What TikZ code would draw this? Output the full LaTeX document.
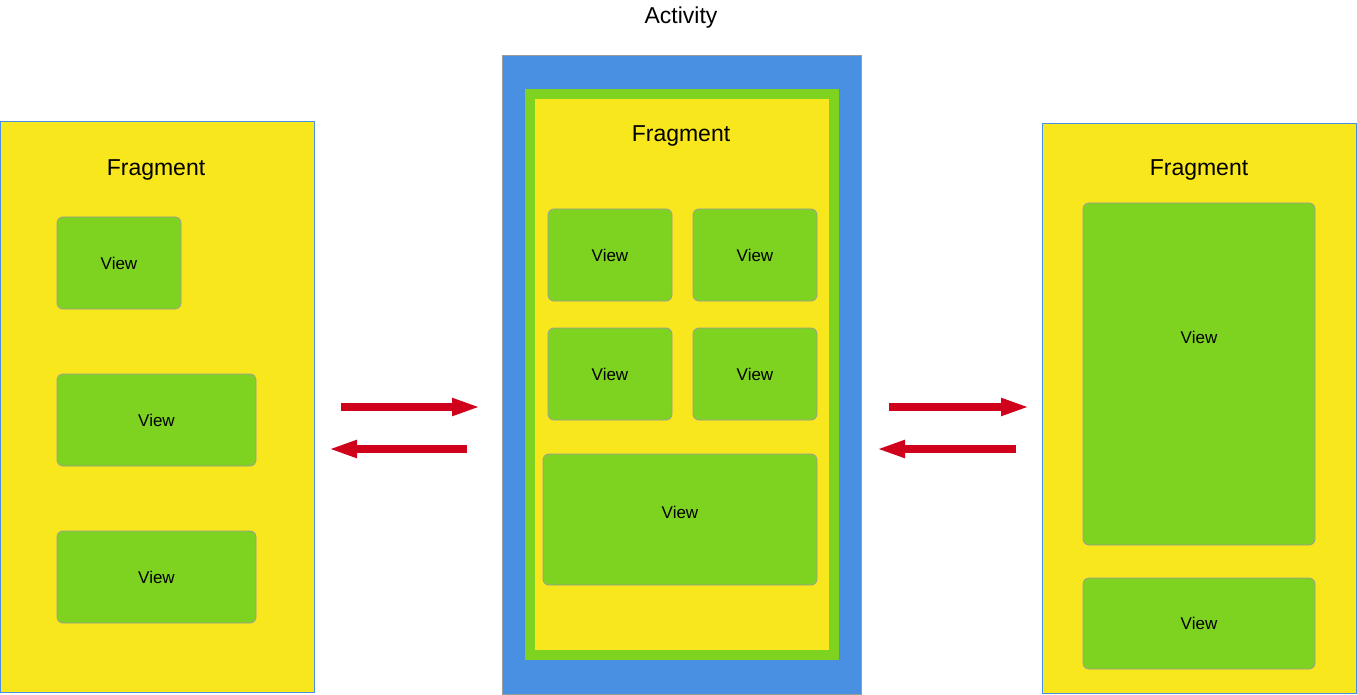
\documentclass[tikz,border=0pt]{standalone}
\usepackage{fontspec}
\setmainfont{Liberation Sans}
\usetikzlibrary{arrows.meta}
\definecolor{fragYellow}{RGB}{248,231,28}
\definecolor{viewGreen}{RGB}{126,211,33}
\definecolor{actBlue}{RGB}{74,144,226}
\definecolor{flowRed}{RGB}{208,2,27}
\definecolor{edgeGrey}{RGB}{155,155,155}
\tikzset{
    >=Triangle,
    box/.style 2 args={rectangle,inner sep=0pt,outer sep=0pt,minimum width=#1pt,minimum height=#2pt},
    frag/.style={fill=fragYellow,draw=actBlue,line width=0.8pt},
    view/.style={fill=viewGreen,draw=edgeGrey,line width=0.8pt,rounded corners=6pt,font=\fontsize{17}{20}\selectfont},
    title/.style={font=\fontsize{23}{27}\selectfont},
    flow/.style={draw=flowRed,line width=8pt,-{Triangle[length=29pt,width=16pt]}}
}

\begin{document}
\begin{tikzpicture}[x=1pt,y=-1pt]
  \useasboundingbox (0,0) rectangle (1357,695);

  % left fragment
  \node[frag,box={314}{571}] (lfrag) at (157,406.5) {};
  \node[title] (lfragt) at (156,170) {Fragment};
  \node[view,box={124}{92},yshift=0pt] (lv1) at (119,263) {View};
  \node[view,box={199}{92}] (lv2) at (156.5,420) {View};
  \node[view,box={199}{92}] (lv3) at (156.5,577) {View};

  % activity
  \node[title] (actt) at (681,18) {Activity};
  \node[box={359}{639},fill=actBlue,draw=edgeGrey,line width=0.8pt] (act) at (681.5,374.5) {};
  \node[box={314}{571},fill=viewGreen] (mfragbg) at (682,374.5) {};
  \node[box={294}{551},fill=fragYellow] (mfrag) at (682,374.5) {};
  \node[title] (mfragt) at (681,136) {Fragment};
  \node[view,box={124}{92}] (mv1) at (610,255) {View};
  \node[view,box={124}{92}] (mv2) at (755,255) {View};
  \node[view,box={124}{92}] (mv3) at (610,374) {View};
  \node[view,box={124}{92}] (mv4) at (755,374) {View};
  \node[view,box={274}{131},label={[font=\fontsize{17}{20}\selectfont,yshift=7pt]center:View}] (mv5) at (680,519.5) {};

  % right fragment
  \node[frag,box={314}{570}] (rfrag) at (1199,408) {};
  \node[title] (rfragt) at (1199,170) {Fragment};
  \node[view,box={232}{342},label={[font=\fontsize{17}{20}\selectfont,yshift=37pt]center:View}] (rv1) at (1199,374) {};
  \node[view,box={232}{91}] (rv2) at (1199,623.5) {View};

  % swap arrows
  \coordinate (la) at (341,407);
  \coordinate (lb) at (481,407);
  \coordinate (lc) at (467,449);
  \coordinate (ld) at (328,449);
  \coordinate (ra) at (889,407);
  \coordinate (rb) at (1030,407);
  \coordinate (rc) at (1016,449);
  \coordinate (rd) at (876,449);
  \draw[flow] (la) -- (lb);
  \draw[flow] (lc) -- (ld);
  \draw[flow] (ra) -- (rb);
  \draw[flow] (rc) -- (rd);
\end{tikzpicture}
\end{document}
